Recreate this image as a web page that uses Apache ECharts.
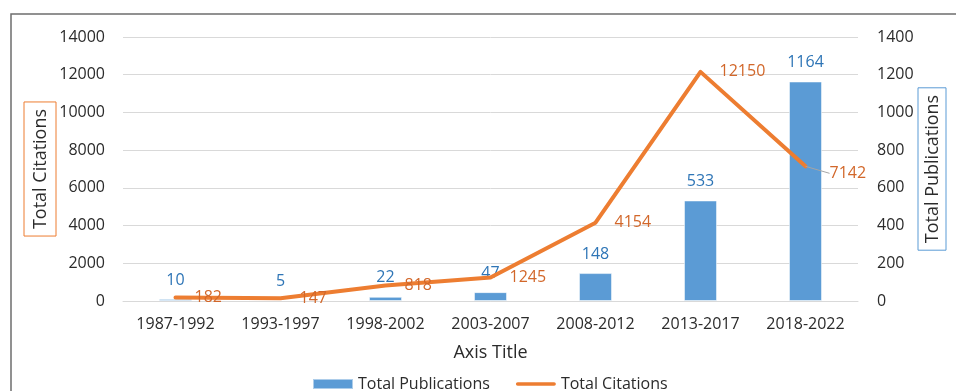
<!DOCTYPE html>
<html>
<head>
<meta charset="utf-8">
<script src="https://cdn.jsdelivr.net/npm/echarts@6/dist/echarts.min.js"></script>
<style>
  html, body { margin: 0; padding: 0; background: #fff; }
  #chart { width: 956px; height: 391px; }
</style>
</head>
<body>
<div id="chart"></div>
<script>
const periods = ['1987-1992', '1993-1997', '1998-2002', '2003-2007', '2008-2012', '2013-2017', '2018-2022']
const publications = [10, 5, 22, 47, 148, 533, 1164]
const citations = [182, 147, 818, 1245, 4154, 12150, 7142]

const FONT = '"Open Sans", "Liberation Sans", sans-serif'
const TEXT = '#2b2b2b'

const chart = echarts.init(document.getElementById('chart'))

// last citation label sits off the line with a small grey leader
const citationData = citations.map((v, i) => i === citations.length - 1
  ? { value: v, labelLine: { show: true, lineStyle: { color: '#a5a5a5', width: 1 } } }
  : v)

const option = {
  animation: false,
  textStyle: { fontFamily: FONT },
  graphic: [{
    type: 'rect',
    shape: { x: 11, y: 14, width: 1000, height: 500 },
    style: { fill: 'none', stroke: '#6e6e6e', lineWidth: 1.5 },
    silent: true
  }],
  grid: { left: 123, right: 98, top: 37, bottom: 90 },
  legend: {
    left: 307,
    top: 371,
    itemGap: 26,
    itemWidth: 40,
    itemHeight: 10,
    textStyle: { fontSize: 16, color: TEXT, fontFamily: FONT },
    data: [
      { name: 'Total Publications', icon: 'rect' },
      { name: 'Total Citations', icon: 'path://M2,0 L42,0 A2,2 0 0 1 42,4 L2,4 A2,2 0 0 1 2,0 Z' }
    ]
  },
  xAxis: {
    type: 'category',
    data: periods,
    name: 'Axis Title',
    nameLocation: 'middle',
    nameGap: 43,
    nameMoveOverlap: false,
    nameTextStyle: { fontSize: 18, color: TEXT },
    axisLine: { lineStyle: { color: '#d9d9d9' } },
    axisTick: { show: false },
    axisLabel: { fontSize: 16, color: TEXT, margin: 15 }
  },
  yAxis: [{
    type: 'value',
    min: 0, max: 14000, interval: 2000,
    name: 'Total Citations',
    nameLocation: 'middle',
    nameRotate: 90,
    nameGap: 67,
    nameMoveOverlap: false,
    nameTextStyle: {
      fontSize: 18, color: TEXT,
      borderColor: '#ED7D31', borderWidth: 1, padding: [8, 7, 6, 7]
    },
    axisLine: { show: false },
    axisTick: { show: false },
    axisLabel: { fontSize: 16, color: TEXT, margin: 18, formatter: v => String(v) },
    splitLine: { lineStyle: { color: '#d9d9d9', width: 1 } }
  }, {
    type: 'value',
    min: 0, max: 1400, interval: 200,
    name: 'Total Publications',
    nameLocation: 'middle',
    nameRotate: 90,
    nameGap: 60,
    nameMoveOverlap: false,
    nameTextStyle: {
      fontSize: 18, color: TEXT,
      borderColor: '#5B9BD5', borderWidth: 1, padding: [6, 7, 4, 7]
    },
    axisLine: { show: false },
    axisTick: { show: false },
    axisLabel: { fontSize: 16, color: TEXT, margin: 19, formatter: v => String(v) },
    splitLine: { show: false }
  }],
  series: [{
    name: 'Total Publications',
    type: 'bar',
    yAxisIndex: 1,
    barWidth: 33,
    data: publications,
    itemStyle: { color: '#5B9BD5', borderColor: 'rgba(255,255,255,0.5)', borderWidth: 1 },
    label: {
      show: true, position: 'top', distance: 11,
      fontSize: 16, color: '#2E75B6', fontFamily: FONT
    }
  }, {
    name: 'Total Citations',
    type: 'line',
    yAxisIndex: 0,
    z: 5,
    showSymbol: true,
    symbol: 'circle',
    symbolSize: 0.1,
    data: citationData,
    lineStyle: { color: '#ED7D31', width: 4, cap: 'round', join: 'round' },
    itemStyle: { color: '#ED7D31' },
    label: {
      show: true, position: 'right', distance: 19,
      fontSize: 16, color: '#D2672A', fontFamily: FONT
    },
    labelLine: { show: false },
    labelLayout: function (params) {
      if (params.dataIndex === 6) return { dx: 5, dy: 7 }
      return {}
    }
  }]
}

chart.setOption(option)
</script>
</body>
</html>
